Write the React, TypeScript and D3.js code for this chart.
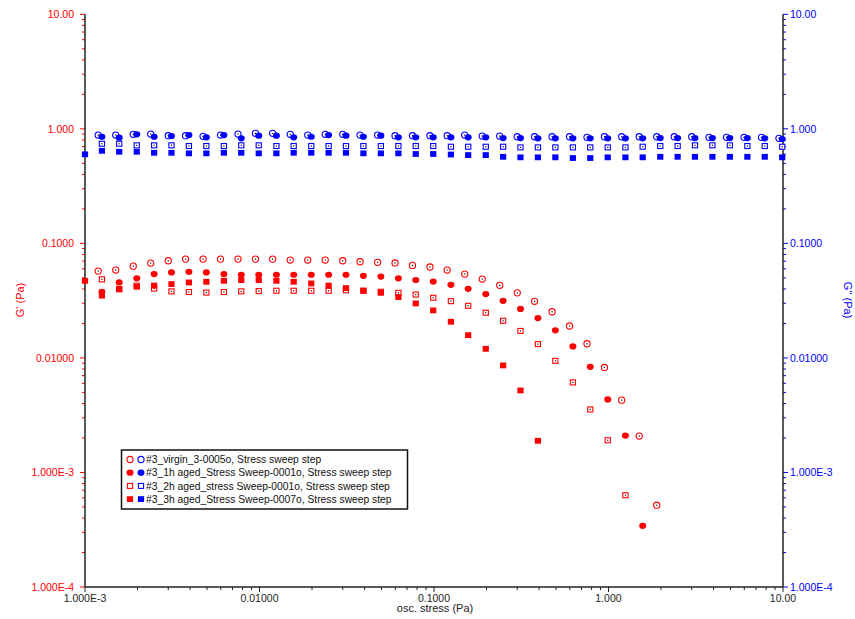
import React from "react";
import * as d3 from "d3";

// osc. stress (Pa) for each run
const stressVirgin = [
  0.00119, 0.0015, 0.00189, 0.00238, 0.003, 0.00377, 0.00475, 0.00598, 0.00753, 0.00948,
  0.0119, 0.015, 0.0189, 0.0238, 0.03, 0.0377, 0.0475, 0.0598, 0.0753, 0.0948,
  0.119, 0.15, 0.189, 0.238, 0.3, 0.377, 0.475, 0.598, 0.753, 0.948,
  1.19, 1.5, 1.89, 2.38, 3.0, 3.77, 4.75, 5.98, 7.53, 9.48,
];
const stressAged = [
  0.00125, 0.00157, 0.00198, 0.00249, 0.00313, 0.00394, 0.00496, 0.00625, 0.00786, 0.0099,
  0.0125, 0.0157, 0.0198, 0.0249, 0.0313, 0.0394, 0.0496, 0.0625, 0.0786, 0.099,
  0.125, 0.157, 0.198, 0.249, 0.313, 0.394, 0.496, 0.625, 0.786, 0.99,
  1.25, 1.57, 1.98, 2.49, 3.13, 3.94, 4.96, 6.25, 7.86, 9.9,
];
const stress3h = [0.001, ...stressAged];

// G' (Pa), left axis
const gpVirgin = [
  0.0573, 0.0585, 0.0633, 0.0673, 0.0705, 0.0729, 0.0729, 0.0729, 0.0729, 0.0729,
  0.0729, 0.0715, 0.0715, 0.0715, 0.0705, 0.0691, 0.0683, 0.0675, 0.0642, 0.0622,
  0.0585, 0.054, 0.0488, 0.043, 0.037, 0.0312, 0.0253, 0.019, 0.0133, 0.00826,
  0.00428, 0.00208, 0.000518,
];
const gp1h = [
  0.0378, 0.0456, 0.0495, 0.054, 0.0558, 0.0565, 0.0558, 0.054, 0.0532, 0.0532,
  0.0532, 0.0532, 0.0532, 0.0532, 0.0532, 0.0521, 0.0513, 0.0495, 0.0479, 0.0464,
  0.0435, 0.0401, 0.0361, 0.0315, 0.0268, 0.0223, 0.0174, 0.0126, 0.00836, 0.00434,
  0.0021, 0.000342,
];
const gp2h = [
  0.0485, 0.0399, 0.0428, 0.0403, 0.0381, 0.0376, 0.0372, 0.0376, 0.0381, 0.0383,
  0.0386, 0.0386, 0.0386, 0.0386, 0.0389, 0.0386, 0.0378, 0.037, 0.0357, 0.0335,
  0.0313, 0.0285, 0.0248, 0.0211, 0.0172, 0.0132, 0.00943, 0.00611, 0.00355, 0.00191,
  0.000633,
];
const gp3h = [
  0.0471, 0.035, 0.0397, 0.0418, 0.0428, 0.0441, 0.0456, 0.0462, 0.0471, 0.0478,
  0.0478, 0.0471, 0.0462, 0.0447, 0.0428, 0.0407, 0.0386, 0.037, 0.034, 0.0299,
  0.026, 0.0207, 0.0158, 0.012, 0.0086, 0.0052, 0.00189,
];

// G'' (Pa), right axis
const gppVirgin = [
  0.883, 0.883, 0.896, 0.901, 0.871, 0.871, 0.86, 0.883, 0.901, 0.913,
  0.913, 0.896, 0.883, 0.896, 0.896, 0.883, 0.883, 0.871, 0.871, 0.871,
  0.871, 0.883, 0.865, 0.865, 0.853, 0.853, 0.853, 0.853, 0.843, 0.853,
  0.853, 0.853, 0.853, 0.853, 0.853, 0.843, 0.843, 0.843, 0.843, 0.826,
];
const gpp1h = [
  0.853, 0.837, 0.896, 0.853, 0.865, 0.883, 0.843, 0.883, 0.826, 0.871,
  0.871, 0.843, 0.853, 0.883, 0.871, 0.853, 0.871, 0.843, 0.843, 0.843,
  0.843, 0.843, 0.843, 0.831, 0.831, 0.826, 0.826, 0.826, 0.826, 0.826,
  0.826, 0.826, 0.831, 0.831, 0.831, 0.831, 0.831, 0.831, 0.826, 0.815,
];
const gpp2h = [
  0.741, 0.741, 0.718, 0.718, 0.718, 0.708, 0.708, 0.708, 0.718, 0.718,
  0.708, 0.708, 0.708, 0.708, 0.708, 0.708, 0.708, 0.708, 0.708, 0.708,
  0.698, 0.698, 0.698, 0.698, 0.689, 0.689, 0.689, 0.689, 0.689, 0.689,
  0.689, 0.698, 0.708, 0.708, 0.718, 0.718, 0.718, 0.708, 0.708, 0.698,
];
const gpp3h = [
  0.599, 0.643, 0.631, 0.631, 0.618, 0.618, 0.611, 0.611, 0.618, 0.618,
  0.611, 0.611, 0.618, 0.618, 0.618, 0.618, 0.611, 0.611, 0.611, 0.603,
  0.603, 0.597, 0.59, 0.59, 0.57, 0.564, 0.564, 0.564, 0.556, 0.556,
  0.564, 0.564, 0.564, 0.57, 0.57, 0.57, 0.57, 0.57, 0.57, 0.57,
  0.564,
];

const legendNames = [
  "#3_virgin_3-0005o, Stress sweep step",
  "#3_1h aged_Stress Sweep-0001o, Stress sweep step",
  "#3_2h aged_stress Sweep-0001o, Stress sweep step",
  "#3_3h aged_Stress Sweep-0007o, Stress sweep step",
];
const markerShapes = ["openCircle", "dotCircle", "openSquare", "dotSquare"];

const yTickValues = [10, 1, 0.1, 0.01, 0.001, 0.0001];
const yTickLabels = ["10.00", "1.000", "0.1000", "0.01000", "1.000E-3", "1.000E-4"];
const xTickValues = [0.001, 0.01, 0.1, 1, 10];
const xTickLabels = ["1.000E-3", "0.01000", "0.1000", "1.000", "10.00"];

const RED = "#ff0000";
const BLUE = "#0000ff";
const font = "'Liberation Sans', Arial, sans-serif";

let sizing = { width: 855, height: 619, left: 85, right: 783, top: 14.3, bottom: 587 };

function Marker(props: { shape: string; x: number; y: number; color: string; dot?: boolean }) {
  const { shape, x, y, color, dot = true } = props;
  if (shape === "openCircle") {
    return (
      <g>
        <circle cx={x} cy={y} r={3.1} fill="white" stroke={color} strokeWidth={1.1} />
        {dot && <rect x={x - 0.6} y={y - 0.6} width={1.2} height={1.2} fill="#300" />}
      </g>
    );
  }
  if (shape === "dotCircle") {
    return <ellipse cx={x} cy={y} rx={3.5} ry={3.1} fill={color} />;
  }
  if (shape === "openSquare") {
    return (
      <g>
        <rect x={x - 2.6} y={y - 2.5} width={5.2} height={5} fill="white" stroke={color} strokeWidth={1.1} />
        {dot && <rect x={x - 0.6} y={y - 0.6} width={1.2} height={1.2} fill="#300" />}
      </g>
    );
  }
  return <rect x={x - 3.1} y={y - 2.9} width={6.2} height={5.8} fill={color} />;
}

function App() {
  const x = d3.scaleLog().domain([0.001, 10]).range([sizing.left, sizing.right]);
  const y = d3.scaleLog().domain([0.0001, 10]).range([sizing.bottom, sizing.top]);

  const redSeries = [
    { xs: stressVirgin, ys: gpVirgin },
    { xs: stressAged, ys: gp1h },
    { xs: stressAged, ys: gp2h },
    { xs: stress3h, ys: gp3h },
  ];
  const blueSeries = [
    { xs: stressVirgin, ys: gppVirgin },
    { xs: stressAged, ys: gpp1h },
    { xs: stressAged, ys: gpp2h },
    { xs: stress3h, ys: gpp3h },
  ];

  const isMajor = (v: number) => Math.abs(Math.log10(v) - Math.round(Math.log10(v))) < 1e-6;
  const yTicks = y.ticks();
  const xTicks = x.ticks();

  let points: JSX.Element[] = [];
  [blueSeries, redSeries].forEach((group, gi) => {
    const color = gi === 0 ? BLUE : RED;
    group.forEach((s, si) => {
      s.ys.forEach((v, i) => {
        points.push(
          <Marker key={`p${gi}-${si}-${i}`} shape={markerShapes[si]} x={x(s.xs[i])} y={y(v)} color={color} />
        );
      });
    });
  });

  return (
    <svg
      width={sizing.width}
      height={sizing.height}
      style={{ position: "absolute", left: 0, top: 0, background: "white" }}
    >
      {/* left axis (G') */}
      {yTicks.map((t, i) => (
        <line
          key={`yl${i}`}
          x1={sizing.left - (isMajor(t) ? 5 : 3)}
          x2={sizing.left}
          y1={y(t)}
          y2={y(t)}
          stroke={RED}
          strokeWidth={1}
        />
      ))}
      {yTickValues.map((t, i) => (
        <text
          key={`yll${i}`}
          x={sizing.left - 11}
          y={y(t) + 3.7}
          textAnchor="end"
          fontFamily={font}
          fontSize={10.5}
          fill={RED}
        >
          {yTickLabels[i]}
        </text>
      ))}
      {/* right axis (G'') */}
      {yTicks.map((t, i) => (
        <line
          key={`yr${i}`}
          x1={sizing.right}
          x2={sizing.right + (isMajor(t) ? 5 : 3)}
          y1={y(t)}
          y2={y(t)}
          stroke={BLUE}
          strokeWidth={1}
        />
      ))}
      {yTickValues.map((t, i) => (
        <text
          key={`yrl${i}`}
          x={sizing.right + 7}
          y={y(t) + 3.7}
          fontFamily={font}
          fontSize={10.5}
          fill={BLUE}
        >
          {yTickLabels[i]}
        </text>
      ))}
      {/* bottom axis */}
      {xTicks.map((t, i) => (
        <line
          key={`xt${i}`}
          x1={x(t)}
          x2={x(t)}
          y1={sizing.bottom}
          y2={sizing.bottom + (isMajor(t) ? 5 : 3)}
          stroke="#222"
          strokeWidth={1}
        />
      ))}
      {xTickValues.map((t, i) => (
        <text
          key={`xl${i}`}
          x={x(t)}
          y={sizing.bottom + 14.5}
          textAnchor="middle"
          fontFamily={font}
          fontSize={10.5}
          fill="#222"
        >
          {xTickLabels[i]}
        </text>
      ))}
      <line x1={sizing.left} x2={sizing.left} y1={sizing.top} y2={sizing.bottom} stroke="#222" strokeWidth={1.5} />
      <line x1={sizing.right} x2={sizing.right} y1={sizing.top} y2={sizing.bottom} stroke="#222" strokeWidth={1.5} />
      <line x1={sizing.left} x2={sizing.right} y1={sizing.bottom} y2={sizing.bottom} stroke="#222" strokeWidth={1.5} />

      <text x={435} y={612} textAnchor="middle" fontFamily={font} fontSize={11} fill="#222">
        osc. stress (Pa)
      </text>
      <text
        transform="translate(24,300) rotate(-90)"
        textAnchor="middle"
        fontFamily={font}
        fontSize={11}
        fill={RED}
      >
        G' (Pa)
      </text>
      <text
        transform="translate(844,300) rotate(90)"
        textAnchor="middle"
        fontFamily={font}
        fontSize={11}
        fill={BLUE}
      >
        G'' (Pa)
      </text>

      {points}

      {/* legend */}
      <rect x={121.5} y={450} width={286} height={59} fill="white" stroke="#111" strokeWidth={1.5} />
      {legendNames.map((name, i) => {
        const ly = 459.5 + i * 13.2;
        return (
          <g key={`lg${i}`}>
            <Marker shape={markerShapes[i]} x={130} y={ly} color={RED} dot={false} />
            <Marker shape={markerShapes[i]} x={141} y={ly} color={BLUE} dot={false} />
            <text x={146} y={ly + 3.6} fontFamily={font} fontSize={10.3} fill="#111">
              {name}
            </text>
          </g>
        );
      })}
    </svg>
  );
}

export default App;
